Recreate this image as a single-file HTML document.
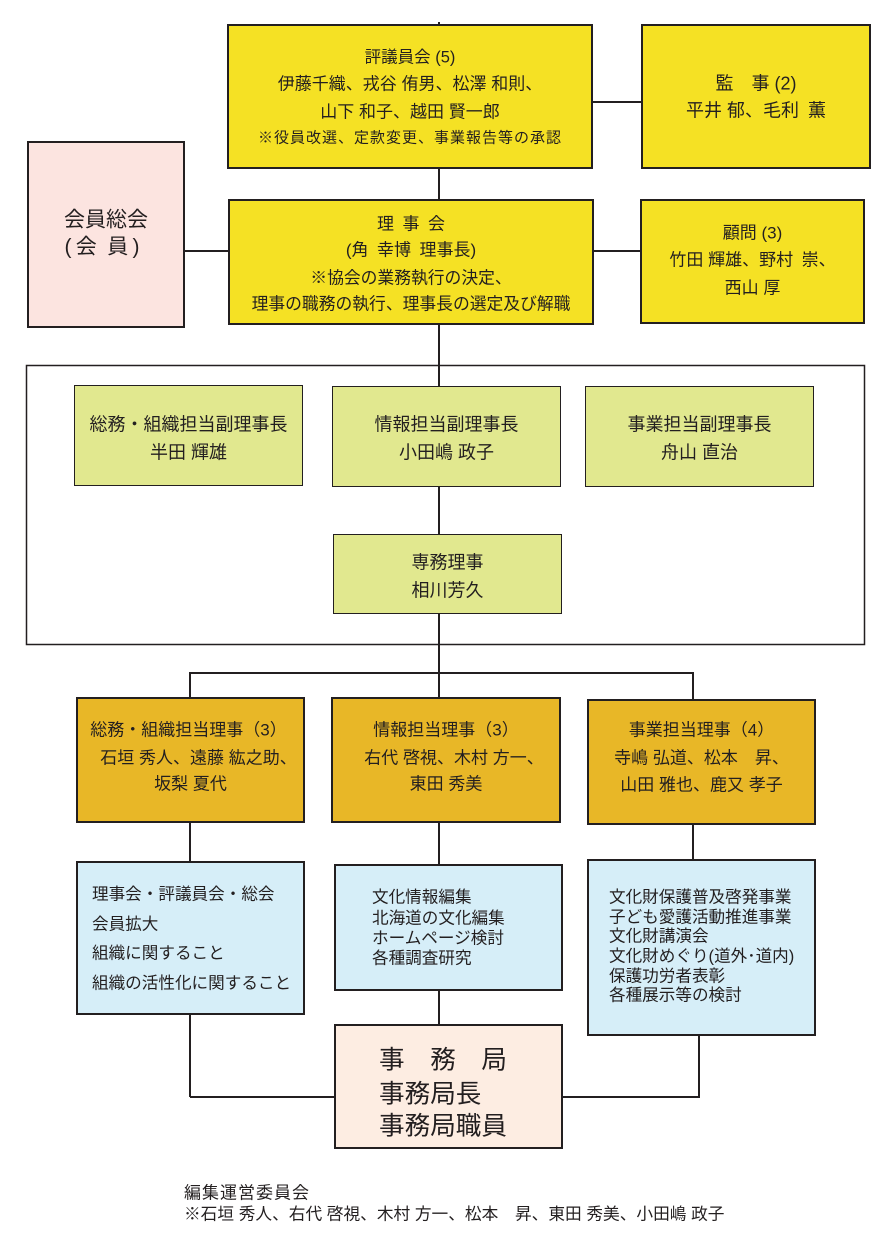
<!DOCTYPE html>
<html lang="ja">
<head>
<meta charset="utf-8">
<style>
  html, body { margin:0; padding:0; background:#ffffff; }
  body { width:896px; height:1258px; position:relative; overflow:hidden;
         font-family:"Liberation Sans","Noto Sans CJK JP",sans-serif; color:#231f20; }
  .b { position:absolute; box-sizing:border-box; border:2.5px solid #231f20; z-index:2; }
  .y { background:#f5e124; }
  .g { background:#e1e88f; border-width:1.5px; }
  .o { background:#e8b727; }
  .l { background:#d6eef8; }
  .p { background:#fce4e0; }
  .e { background:#fdede2; }
  .t { position:absolute; z-index:3; white-space:nowrap; text-align:center; height:24px; line-height:24px; transform:translateY(2.5px); }
  .tl { position:absolute; z-index:3; white-space:nowrap; height:24px; line-height:24px; transform:translateY(2.5px); }
  svg { position:absolute; left:0; top:0; z-index:1; }
</style>
</head>
<body>
<svg width="896" height="1258" viewBox="0 0 896 1258">
  <g stroke="#231f20" stroke-width="2" fill="none">
    <line x1="439" y1="22" x2="439" y2="1025"/>
    <line x1="593" y1="102" x2="641" y2="102"/>
    <line x1="594" y1="251" x2="640" y2="251"/>
    <line x1="184" y1="251" x2="229" y2="251"/>
    <polyline points="190,1097 190,673 693,673 693,860"/>
    <line x1="190" y1="1097" x2="335" y2="1097"/>
    <polyline points="699,1035 699,1097 562,1097"/>
  </g>
  <rect x="26.5" y="365.5" width="838" height="279" fill="none" stroke="#231f20" stroke-width="1.5"/>
</svg>

<!-- top row -->
<div class="b y" style="left:227px;top:24px;width:366px;height:145px;"></div>
<div class="t" style="left:227px;top:43px;width:366px;font-size:16.5px;">評議員会 (5)</div>
<div class="t" style="left:227px;top:70px;width:366px;font-size:17px;">伊藤千織、戎谷 侑男、松澤 和則、</div>
<div class="t" style="left:227px;top:98px;width:366px;font-size:17px;">山下 和子、越田 賢一郎</div>
<div class="t" style="left:227px;top:124px;width:366px;font-size:15px;letter-spacing:1px;">※役員改選、定款変更、事業報告等の承認</div>

<div class="b y" style="left:641px;top:24px;width:230px;height:145px;"></div>
<div class="t" style="left:641px;top:69px;width:230px;font-size:18px;">監　事 (2)</div>
<div class="t" style="left:641px;top:96px;width:230px;font-size:18px;">平井 郁、毛利&ensp;薫</div>

<div class="b p" style="left:27px;top:141px;width:158px;height:187px;"></div>
<div class="t" style="left:27px;top:204px;width:158px;font-size:21px;height:28px;line-height:28px;">会員総会</div>
<div class="t" style="left:23px;top:231px;width:158px;font-size:21px;height:28px;line-height:28px;">(&thinsp;会&ensp;員&thinsp;)</div>

<div class="b y" style="left:228px;top:199px;width:366px;height:126px;"></div>
<div class="t" style="left:228px;top:210px;width:366px;font-size:17px;">理&ensp;事&ensp;会</div>
<div class="t" style="left:228px;top:236px;width:366px;font-size:17px;">(角&ensp;幸博&ensp;理事長)</div>
<div class="t" style="left:228px;top:264px;width:366px;font-size:16.8px;">※協会の業務執行の決定、</div>
<div class="t" style="left:228px;top:290px;width:366px;font-size:16.8px;">理事の職務の執行、理事長の選定及び解職</div>

<div class="b y" style="left:640px;top:199px;width:225px;height:125px;"></div>
<div class="t" style="left:640px;top:219px;width:225px;font-size:17px;">顧問 (3)</div>
<div class="t" style="left:640px;top:246px;width:225px;font-size:17px;">竹田 輝雄、野村&ensp;崇、</div>
<div class="t" style="left:640px;top:274px;width:225px;font-size:17px;">西山 厚</div>

<!-- vice chairs -->
<div class="b g" style="left:74px;top:385px;width:229px;height:101px;"></div>
<div class="t" style="left:74px;top:410px;width:229px;font-size:18px;">総務・組織担当副理事長</div>
<div class="t" style="left:74px;top:438px;width:229px;font-size:18px;">半田 輝雄</div>

<div class="b g" style="left:332px;top:386px;width:229px;height:101px;"></div>
<div class="t" style="left:332px;top:410px;width:229px;font-size:18px;">情報担当副理事長</div>
<div class="t" style="left:332px;top:438px;width:229px;font-size:18px;">小田嶋 政子</div>

<div class="b g" style="left:585px;top:386px;width:229px;height:101px;"></div>
<div class="t" style="left:585px;top:410px;width:229px;font-size:18px;">事業担当副理事長</div>
<div class="t" style="left:585px;top:438px;width:229px;font-size:18px;">舟山 直治</div>

<div class="b g" style="left:333px;top:534px;width:229px;height:80px;"></div>
<div class="t" style="left:333px;top:548px;width:229px;font-size:18px;">専務理事</div>
<div class="t" style="left:333px;top:576px;width:229px;font-size:18px;">相川芳久</div>

<!-- directors -->
<div class="b o" style="left:76px;top:697px;width:229px;height:126px;"></div>
<div class="t" style="left:74px;top:716px;width:229px;font-size:17px;">総務・組織担当理事（3）</div>
<div class="t" style="left:76px;top:744px;width:245px;font-size:17px;">石垣 秀人、遠藤 紘之助、</div>
<div class="t" style="left:76px;top:770px;width:229px;font-size:17px;">坂梨 夏代</div>

<div class="b o" style="left:331px;top:697px;width:230px;height:126px;"></div>
<div class="t" style="left:331px;top:716px;width:230px;font-size:17px;">情報担当理事（3）</div>
<div class="t" style="left:331px;top:744px;width:246px;font-size:17px;">右代 啓視、木村 方一、</div>
<div class="t" style="left:331px;top:770px;width:230px;font-size:17px;">東田 秀美</div>

<div class="b o" style="left:587px;top:699px;width:229px;height:126px;"></div>
<div class="t" style="left:587px;top:716px;width:229px;font-size:17px;">事業担当理事（4）</div>
<div class="t" style="left:587px;top:744px;width:229px;font-size:17px;">寺嶋 弘道、松本&ensp;&ensp;昇、</div>
<div class="t" style="left:587px;top:771px;width:229px;font-size:17px;">山田 雅也、鹿又 孝子</div>

<!-- task boxes -->
<div class="b l" style="left:76px;top:861px;width:229px;height:154px;"></div>
<div class="tl" style="left:92px;top:880px;font-size:16.6px;">理事会・評議員会・総会</div>
<div class="tl" style="left:92px;top:910px;font-size:16.6px;">会員拡大</div>
<div class="tl" style="left:92px;top:939px;font-size:16.6px;">組織に関すること</div>
<div class="tl" style="left:92px;top:969px;font-size:16.6px;">組織の活性化に関すること</div>

<div class="b l" style="left:334px;top:864px;width:229px;height:127px;"></div>
<div class="tl" style="left:372px;top:883px;font-size:16.6px;">文化情報編集</div>
<div class="tl" style="left:372px;top:904px;font-size:16.6px;">北海道の文化編集</div>
<div class="tl" style="left:372px;top:924px;font-size:16.6px;">ホームページ検討</div>
<div class="tl" style="left:372px;top:944px;font-size:16.6px;">各種調査研究</div>

<div class="b l" style="left:587px;top:859px;width:229px;height:177px;"></div>
<div class="tl" style="left:609px;top:883px;font-size:16.6px;">文化財保護普及啓発事業</div>
<div class="tl" style="left:609px;top:903px;font-size:16.6px;">子ども愛護活動推進事業</div>
<div class="tl" style="left:609px;top:922px;font-size:16.6px;">文化財講演会</div>
<div class="tl" style="left:609px;top:942px;font-size:16.6px;">文化財めぐり(道外･道内)</div>
<div class="tl" style="left:609px;top:962px;font-size:16.6px;">保護功労者表彰</div>
<div class="tl" style="left:609px;top:981px;font-size:16.6px;">各種展示等の検討</div>

<!-- secretariat -->
<div class="b e" style="left:334px;top:1024px;width:229px;height:125px;"></div>
<div class="tl" style="left:379px;top:1042px;font-size:25.6px;height:32px;line-height:32px;">事　務　局</div>
<div class="tl" style="left:379px;top:1076px;font-size:25.6px;height:32px;line-height:32px;">事務局長</div>
<div class="tl" style="left:379px;top:1108px;font-size:25.6px;height:32px;line-height:32px;">事務局職員</div>

<!-- footer -->
<div class="tl" style="left:184px;top:1179px;font-size:17px;letter-spacing:1px;">編集運営委員会</div>
<div class="tl" style="left:184px;top:1200px;font-size:16.7px;">※石垣 秀人、右代 啓視、木村 方一、松本&ensp;&ensp;昇、東田 秀美、小田嶋 政子</div>
</body>
</html>
